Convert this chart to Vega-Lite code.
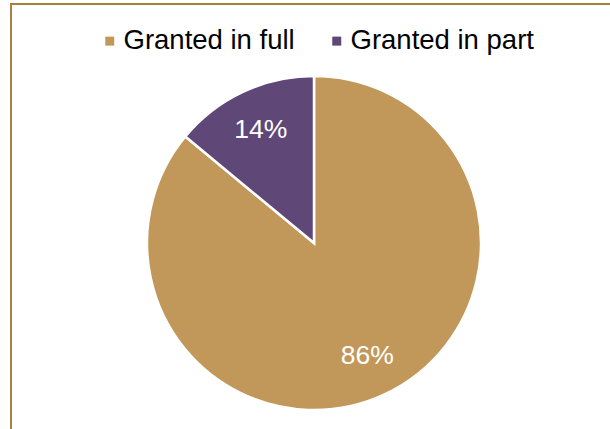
{
  "$schema": "https://vega.github.io/schema/vega-lite/v6.json",
  "width": 606,
  "height": 478,
  "padding": {"left": 11, "top": 4, "right": 0, "bottom": 0},
  "autosize": {"type": "none"},
  "background": "white",
  "view": {"stroke": "#A8803F", "strokeWidth": 2},
  "config": {
    "view": {"stroke": "#A8803F", "strokeWidth": 2},
    "font": "Liberation Sans"
  },
  "data": {
    "values": [
      {"category": "Granted in full", "share": 0.86},
      {"category": "Granted in part", "share": 0.14}
    ]
  },
  "encoding": {
    "theta": {"field": "share", "type": "quantitative", "stack": true},
    "order": {"field": "category", "sort": "ascending"}
  },
  "layer": [
    {
      "mark": {"type": "arc", "radius": 167, "stroke": "white", "strokeWidth": 2.5},
      "encoding": {
        "color": {
          "field": "category",
          "type": "nominal",
          "scale": {"domain": ["Granted in full", "Granted in part"], "range": ["#C2985A", "#5F4778"]},
          "legend": {
            "title": null,
            "orient": "none",
            "direction": "horizontal",
            "legendX": 85,
            "legendY": 23,
            "symbolType": "square",
            "symbolSize": 81,
            "symbolStrokeWidth": 0,
            "labelFontSize": 27.5,
            "labelColor": "#000000",
            "labelFont": "Liberation Sans",
            "labelOffset": 0,
            "columnPadding": 28,
            "labelLimit": 400
          }
        }
      }
    },
    {
      "mark": {"type": "text", "radius": 125, "fill": "white", "fontSize": 26.5, "font": "Liberation Sans"},
      "encoding": {
        "detail": {"field": "category"},
        "text": {"field": "share", "type": "quantitative", "format": ".0%"}
      }
    }
  ]
}
